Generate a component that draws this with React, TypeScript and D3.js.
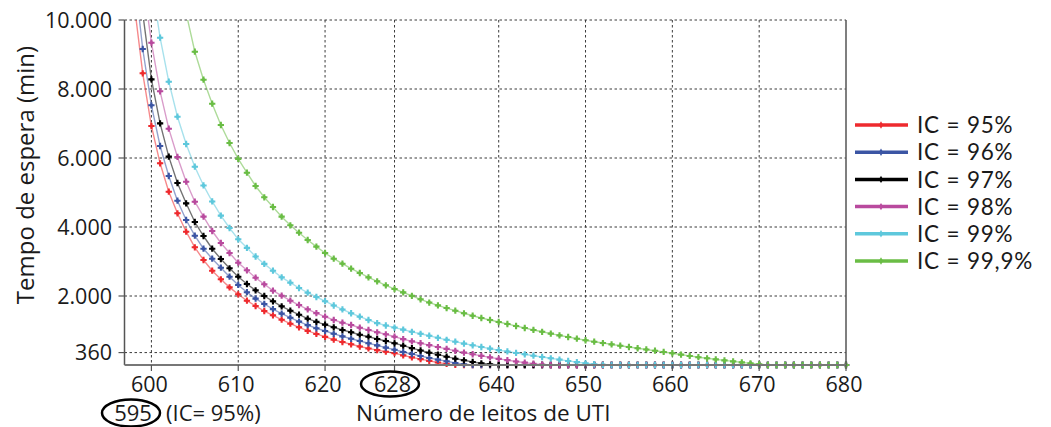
import React from 'react';
import * as d3 from 'd3';

// ---- data (tempo de espera em minutos por número de leitos) ----
const ic95Start = 598;
const ic95 = [10500, 8455, 6927, 5846, 5023, 4397, 3864, 3411, 3043, 2734,
  2484, 2250, 2049, 1864, 1710, 1565, 1440, 1313, 1197, 1093,
  990, 900, 815, 735, 665, 600, 535, 480, 430, 385,
  345, 280, 222, 170, 120, 72, 32, 5,
  0, 0, 0, 0, 0, 0, 0, 0, 0, 0,
  0, 0, 0, 0, 0, 0, 0, 0, 0, 0,
  0, 0, 0, 0, 0, 0, 0, 0, 0, 0,
  0, 0, 0, 0, 0, 0, 0, 0, 0, 0,
  0, 0, 0, 0, 0];

const ic96Start = 598;
const ic96 = [11400, 9159, 7527, 6348, 5478, 4762, 4203, 3748, 3371, 3081,
  2820, 2560, 2320, 2110, 1925, 1768, 1620, 1490, 1371, 1258,
  1155, 1065, 985, 905, 830, 760, 695, 630, 568, 505,
  442, 377, 319, 261, 203, 155, 107, 58, 20,
  0, 0, 0, 0, 0, 0, 0, 0, 0, 0,
  0, 0, 0, 0, 0, 0, 0, 0, 0, 0,
  0, 0, 0, 0, 0, 0, 0, 0, 0, 0,
  0, 0, 0, 0, 0, 0, 0, 0, 0, 0,
  0, 0, 0, 0];

const ic97Start = 598;
const ic97 = [13000, 10200, 8280, 7005, 6039, 5275, 4686, 4145, 3739, 3371,
  3072, 2803, 2559, 2348, 2165, 2000, 1846, 1701, 1574, 1458,
  1342, 1250, 1170, 1093, 1014, 948, 878, 820, 754, 696,
  629, 560, 490, 420, 357, 299, 241, 183, 136, 87,
  49, 20,
  0, 0, 0, 0, 0, 0, 0, 0, 0, 0,
  0, 0, 0, 0, 0, 0, 0, 0, 0, 0,
  0, 0, 0, 0, 0, 0, 0, 0, 0, 0,
  0, 0, 0, 0, 0, 0, 0, 0, 0, 0,
  0];

const ic98Start = 599;
const ic98 = [11190, 9342, 7933, 6850, 6030, 5313, 4733, 4300, 3884, 3536,
  3246, 2965, 2745, 2530, 2339, 2154, 2009, 1864, 1739, 1614,
  1505, 1400, 1304, 1226, 1159, 1081, 1014, 948, 890, 820,
  750, 685, 630, 575, 520, 468, 412, 360, 312, 265,
  220, 178, 140, 103, 68, 36, 12,
  0, 0, 0, 0, 0, 0, 0, 0, 0, 0,
  0, 0, 0, 0, 0, 0, 0, 0, 0, 0,
  0, 0, 0, 0, 0, 0, 0, 0, 0, 0,
  0, 0, 0, 0, 0];

const ic99Start = 600;
const ic99 = [11140, 9487, 8212, 7197, 6406, 5748, 5205, 4740, 4330, 3971,
  3643, 3395, 3145, 2930, 2733, 2542, 2386, 2232, 2096, 1971,
  1850, 1725, 1610, 1500, 1400, 1304, 1215, 1145, 1085, 1025,
  962, 905, 848, 788, 730, 676, 620, 571, 522, 474,
  432, 392, 350, 310, 270, 232, 194, 156, 118, 82,
  50, 22, 4,
  0, 0, 0, 0, 0, 0, 0, 0, 0, 0,
  0, 0, 0, 0, 0, 0, 0, 0, 0, 0,
  0, 0, 0, 0, 0, 0, 0, 0];

const ic999Start = 604;
const ic999 = [10200, 9081, 8270, 7574, 6957, 6435, 5975, 5574, 5188, 4861,
  4580, 4300, 4049, 3835, 3623, 3430, 3246, 3081, 2936, 2791,
  2667, 2541, 2426, 2310, 2203, 2105, 2003, 1904, 1810, 1728,
  1650, 1574, 1499, 1428, 1362, 1304, 1246, 1188, 1130, 1072,
  1016, 963, 910, 860, 811, 763, 717, 675, 636, 598,
  559, 522, 486, 451, 414, 378, 341, 302, 263, 226,
  194, 163, 134, 105, 76, 48, 20,
  0, 0, 0, 0, 0, 0, 0, 0, 0, 0];

const seriesNames = ['IC = 95%', 'IC = 96%', 'IC = 97%', 'IC = 98%', 'IC = 99%', 'IC = 99,9%'];
const seriesColors = ['#ee2a2e', '#3b55a4', '#000000', '#b94a9e', '#5ec8dc', '#6abd45'];
const seriesValues = [ic95, ic96, ic97, ic98, ic99, ic999];
const seriesStarts = [ic95Start, ic96Start, ic97Start, ic98Start, ic99Start, ic999Start];

const xTicks = [600, 610, 620, 628, 640, 650, 660, 670, 680];
const yTicks = [10000, 8000, 6000, 4000, 2000, 360];
const yTickLabels = ['10.000', '8.000', '6.000', '4.000', '2.000', '360'];

const xTitle = 'Número de leitos de UTI';
const yTitle = 'Tempo de espera (min)';
const noteNumber = '595';
const noteText = '(IC= 95%)';

// ---- layout ----
const W = 1051, H = 427;
const L = 124.5, R = 846, T = 20, B = 365;
const FONT = '"Open Sans", sans-serif';
const LEGEND_FONT = 'Lato, "Open Sans", sans-serif';
const INK = '#1a1a1a';

export default function App() {
  const x = d3.scaleLinear().domain([596.9, 680]).range([L, R]);
  const y = d3.scaleLinear().domain([0, 10000]).range([B, T]);
  const line = d3.line<[number, number]>().x(d => x(d[0])).y(d => y(d[1]));
  const marker = d3.symbol().type(d3.symbolCross).size(22)() as string;
  const legendMarker = d3.symbol().type(d3.symbolDiamond).size(16)() as string;

  const series = seriesValues.map((vals, i) => ({
    name: seriesNames[i],
    color: seriesColors[i],
    pts: vals.map((v, j) => [seriesStarts[i] + j, v] as [number, number]),
  }));

  return (
    <svg width={W} height={H} style={{ position: 'absolute', left: 0, top: 0, background: '#fff' }} fontFamily={FONT}>
      <defs>
        <clipPath id="plot">
          <rect x={L} y={T} width={R - L + 4} height={B - T + 4} />
        </clipPath>
      </defs>
      <rect x={0} y={0} width={W} height={H} fill="#fff" />

      {/* grid */}
      {yTicks.map(t => (
        <line key={'gy' + t} x1={L} x2={R} y1={y(t)} y2={y(t)} stroke="#3a3a3a" strokeWidth={1} strokeDasharray="2.5,2.5" />
      ))}
      {xTicks.filter(t => t < 680).map(t => (
        <line key={'gx' + t} x1={x(t)} x2={x(t)} y1={T} y2={B} stroke="#3a3a3a" strokeWidth={1} strokeDasharray="2.5,2.5" />
      ))}

      {/* series */}
      <g clipPath="url(#plot)">
        {series.map(s => (
          <path key={'l' + s.name} d={line(s.pts) || ''} fill="none" stroke={s.color} strokeOpacity={0.55} strokeWidth={1.4} />
        ))}
        {series.map(s => (
          <g key={'m' + s.name} fill={s.color}>
            {s.pts.map(p => (
              <g key={p[0]} transform={`translate(${x(p[0])},${y(p[1])})`}>
                <path d={marker} />
                <circle r={1.7} />
              </g>
            ))}
          </g>
        ))}
      </g>

      {/* frame */}
      <line x1={L} x2={L} y1={T} y2={B} stroke="#555" strokeWidth={1.5} />
      <line x1={R} x2={R} y1={T} y2={B} stroke="#555" strokeWidth={1.5} />
      <line x1={L} x2={R} y1={B} y2={B} stroke="#777" strokeWidth={2} />

      {/* y ticks */}
      {yTicks.map((t, i) => (
        <g key={'yt' + t}>
          <line x1={L - 6} x2={L} y1={y(t)} y2={y(t)} stroke="#555" strokeWidth={1.2} />
          <text x={112} y={y(t)} dy="0.36em" textAnchor="end" fontSize={21.5} fill={INK}>{yTickLabels[i]}</text>
        </g>
      ))}

      {/* x ticks */}
      {xTicks.map(t => (
        <g key={'xt' + t}>
          <line x1={x(t)} x2={x(t)} y1={B} y2={B + 6} stroke="#555" strokeWidth={1.2} />
          <text x={x(t) - 2} y={392} textAnchor="middle" fontSize={21.5} fill={INK}>{t}</text>
        </g>
      ))}

      {/* annotations */}
      <ellipse cx={390} cy={384} rx={29} ry={12.5} fill="none" stroke="#000" strokeWidth={2.5} />
      <ellipse cx={131} cy={413} rx={29} ry={13.5} fill="none" stroke="#000" strokeWidth={2.5} />
      <text x={133} y={421} textAnchor="middle" fontSize={22} fill={INK}>{noteNumber}</text>
      <text x={166} y={421} fontSize={22} fill={INK}>{noteText}</text>
      <text x={356} y={421} fontSize={22.5} fill={INK}>{xTitle}</text>
      <text transform="translate(34,175) rotate(-90)" textAnchor="middle" fontSize={24} fill={INK}>{yTitle}</text>

      {/* legend */}
      {series.map((s, i) => {
        const ly = 125 + i * 27.2;
        return (
          <g key={'lg' + s.name}>
            <line x1={855} x2={908} y1={ly} y2={ly} stroke={s.color} strokeWidth={3.5} />
            <path d={legendMarker} transform={`translate(881,${ly})`} fill={s.color} />
            <text x={917} y={ly} dy="0.36em" fontSize={22.5} fontFamily={LEGEND_FONT} letterSpacing={0.8} fill={INK}>{s.name}</text>
          </g>
        );
      })}
    </svg>
  );
}
